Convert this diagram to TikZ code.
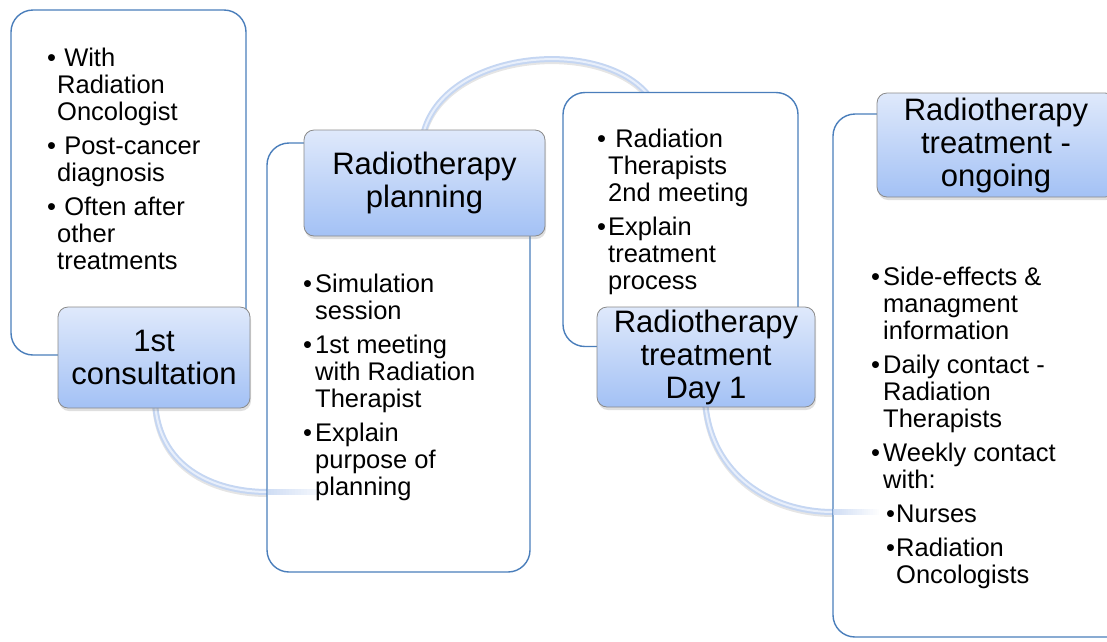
\documentclass[tikz,border=0pt]{standalone}
\usepackage{fontspec}
\setmainfont{Liberation Sans}
\usetikzlibrary{shadows}
\definecolor{boxblue}{HTML}{4A7EBB}
\definecolor{titletop}{HTML}{DFE9FB}
\definecolor{titlebot}{HTML}{A3C1F5}
\definecolor{titleline}{HTML}{8A8A8A}
\definecolor{arcblue}{HTML}{C5D6F2}
\definecolor{arcin}{HTML}{E8EFFB}
\newcommand{\bfnt}{\fontsize{25.5}{27.2}\selectfont}
\newcommand{\tfnt}{\fontsize{31}{33}\selectfont}
\newcommand{\bl}[2]{\makebox[#1][l]{•}#2}
\newcommand{\ind}[1]{\hspace*{#1}}
\tikzset{
 listbox/.style={draw=boxblue, line width=1.4pt, fill=white, rounded corners=22pt, inner sep=0pt},
 titlebox/.style={draw=titleline, line width=0.8pt, rounded corners=10pt, top color=titletop, bottom color=titlebot,
   drop shadow={opacity=0.25, shadow xshift=1pt, shadow yshift=-3pt}, align=center, font=\tfnt, inner sep=0pt},
 bodytext/.style={anchor=north west, align=left, inner sep=0pt, font=\bfnt},
 arcshadow/.style={line width=6pt, black, opacity=0.10},
 arcline/.style={line width=6pt, arcblue},
 arccore/.style={line width=2pt, arcin}
}
\begin{document}
\begin{tikzpicture}[x=1pt,y=-1pt]
\useasboundingbox (0,0) rectangle (1107,641);
\clip (0,0) rectangle (1107,641);

% arc anchor coordinates
\coordinate (a1s) at (155,400);
\coordinate (a1e) at (268,492);
\coordinate (a2s) at (423,135);
\coordinate (a2e) at (652,100);
\coordinate (a3s) at (705,400);
\coordinate (a3e) at (833,512);

% arcs (behind boxes)
\draw[arcshadow] ([yshift=-2pt]a1s) .. controls (157,468) and (212,494) .. ([yshift=-2pt]a1e);
\draw[arcline] (a1s) .. controls (157,466) and (212,492) .. (a1e);
\draw[arccore] (a1s) .. controls (157,466) and (212,492) .. (a1e);

\draw[arcshadow] ([yshift=-2pt]a2s) .. controls (443,50) and (608,37) .. ([yshift=-2pt]a2e);
\draw[arcline] (a2s) .. controls (443,48) and (608,35) .. (a2e);
\draw[arccore] (a2s) .. controls (443,48) and (608,35) .. (a2e);

\draw[arcshadow] ([yshift=-2pt]a3s) .. controls (710,478) and (772,514) .. ([yshift=-2pt]a3e);
\draw[arcline] (a3s) .. controls (710,476) and (772,512) .. (a3e);
\draw[arccore] (a3s) .. controls (710,476) and (772,512) .. (a3e);

% white list boxes
\node[listbox, minimum width=235pt, minimum height=345pt] (b1) at (128.5,182.5) {};
\node[listbox, minimum width=263pt, minimum height=429pt] (b2) at (398.5,357.5) {};
\node[listbox, minimum width=235pt, minimum height=254pt] (b3) at (680.5,219.5) {};
\node[listbox, minimum width=297pt, minimum height=523pt] (b4) at (981.5,375.5) {};

% fading ends of arcs entering boxes
\foreach \i [evaluate=\i as \op using 0.8-0.038*\i] in {0,...,20}{
  \draw[line width=6pt, arcblue, opacity=\op] ([xshift={3pt*\i}]a1e) -- ([xshift={3pt*\i+3pt}]a1e);
  \draw[line width=6pt, arcblue, opacity=\op] ([xshift={2.2pt*\i}]a3e) -- ([xshift={2.2pt*\i+2.2pt}]a3e);
}

% body texts
\node[bodytext] (t1b) at (47,47) {\strut\bl{10pt}{\ With}\\ \ind{10pt}Radiation\\ \ind{10pt}Oncologist\\[6.5pt]
 \bl{10pt}{\ Post-cancer}\\ \ind{10pt}diagnosis\\[6.5pt]
 \bl{10pt}{\ Often after}\\ \ind{10pt}other\\ \ind{10pt}treatments};

\node[bodytext] (t2b) at (303,273) {\strut\bl{12pt}{Simulation}\\ \ind{12pt}session\\[6.5pt]
 \bl{12pt}{1st meeting}\\ \ind{12pt}with Radiation\\ \ind{12pt}Therapist\\[6.5pt]
 \bl{12pt}{Explain}\\ \ind{12pt}purpose of\\ \ind{12pt}planning};

\node[bodytext] (t3b) at (597,128) {\strut\bl{11pt}{\ Radiation}\\ \ind{11pt}Therapists\\ \ind{11pt}2nd meeting\\[6.5pt]
 \bl{11pt}{Explain}\\ \ind{11pt}treatment\\ \ind{11pt}process};

\node[bodytext] (t4b) at (871,266) {\strut\bl{12pt}{Side-effects \&}\\ \ind{12pt}managment\\ \ind{12pt}information\\[6.5pt]
 \bl{12pt}{Daily contact -}\\ \ind{12pt}Radiation\\ \ind{12pt}Therapists\\[6.5pt]
 \bl{12pt}{Weekly contact}\\ \ind{12pt}with:\\[6.5pt]
 \ind{15pt}\bl{10pt}{Nurses}\\[6.5pt]
 \ind{15pt}\bl{10pt}{Radiation}\\ \ind{25pt}Oncologists};

% title boxes
\node[titlebox, minimum width=192pt, minimum height=101pt] (h1) at (154,357.5) {1st\\consultation};
\node[titlebox, minimum width=241pt, minimum height=106pt] (h2) at (424.5,183) {Radiotherapy\\planning};
\node[titlebox, minimum width=218pt, minimum height=100pt] (h3) at (706,357) {Radiotherapy\\treatment\\Day 1};
\node[titlebox, minimum width=238pt, minimum height=104pt] (h4) at (996,145) {Radiotherapy\\treatment -\\ongoing};
\end{tikzpicture}
\end{document}
